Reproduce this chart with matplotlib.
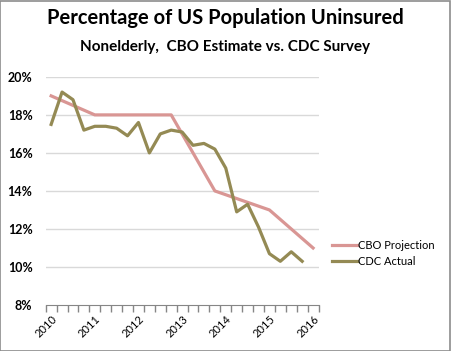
import matplotlib
matplotlib.use("Agg")
import matplotlib.pyplot as plt
from matplotlib.patches import Rectangle
import numpy as np

# quarterly data, 2010 Q1 .. 2016 Q1
anios = ["2010", "2011", "2012", "2013", "2014", "2015", "2016"]
cbo = [19.0, 18.75, 18.5, 18.25, 18.0, 18.0, 18.0, 18.0, 18.0, 18.0, 18.0, 18.0,
       17.0, 16.0, 15.0, 14.0, 13.8, 13.6, 13.4, 13.2, 13.0, 12.5, 12.0, 11.5, 11.0]
cdc = [17.5, 19.2, 18.8, 17.2, 17.4, 17.4, 17.3, 16.9, 17.6, 16.0, 17.0, 17.2,
       17.1, 16.4, 16.5, 16.2, 15.2, 12.9, 13.3, 12.1, 10.7, 10.3, 10.8, 10.3]
yticks = [8, 10, 12, 14, 16, 18, 20]

plt.rcParams['font.family'] = ['Lato', 'DejaVu Sans']

fig = plt.figure(figsize=(4.51, 3.51), dpi=100)
fig.patches.append(Rectangle((0.001, 0.001), 0.997, 0.997, transform=fig.transFigure,
                             fill=False, edgecolor="#8c8c8c", linewidth=1.2))

ax = fig.add_axes([0.1013, 0.131, 0.605, 0.650])

ax.plot(np.arange(len(cbo)), cbo, color="#d99694", linewidth=2.3, label="CBO Projection",
        solid_joinstyle="round")
ax.plot(np.arange(len(cdc)), cdc, color="#948a54", linewidth=2.3, label="CDC Actual",
        solid_joinstyle="round")

ax.set_xlim(-0.5, len(cbo) - 0.5)
ax.set_ylim(8, 20)

ax.set_yticks(yticks)
ax.set_yticklabels([str(v) + "%" for v in yticks], fontweight="bold", fontsize=9)
ax.tick_params(axis="y", length=0, pad=9.5)
for v in yticks[1:]:
    ax.axhline(v, color="#d9d9d9", linewidth=1, zorder=0)

ax.set_xticks(np.arange(0, len(cbo), 4))
ax.set_xticklabels(anios, rotation=45, ha="right", rotation_mode="anchor", fontsize=8)
ax.tick_params(axis="x", which="major", length=0, pad=6)
ax.set_xticks(np.arange(-0.5, len(cbo), 1), minor=True)
ax.tick_params(axis="x", which="minor", length=5, color="#868686", width=1)

for s in ["top", "right", "left"]:
    ax.spines[s].set_visible(False)
ax.spines["bottom"].set_color("#868686")

fig.text(0.5, 0.948, "Percentage of US Population Uninsured", ha="center", va="center",
         fontsize=14.5, fontweight="bold")
fig.text(0.5, 0.866, "Nonelderly,  CBO Estimate vs. CDC Survey", ha="center", va="center",
         fontsize=11, fontweight="bold")

ax.legend(loc="center left", bbox_to_anchor=(0.713, 0.278), bbox_transform=fig.transFigure,
          frameon=False, fontsize=8, handlelength=2.3, handletextpad=0.1, labelspacing=0.5)

fig.savefig("out.png", dpi=100)
